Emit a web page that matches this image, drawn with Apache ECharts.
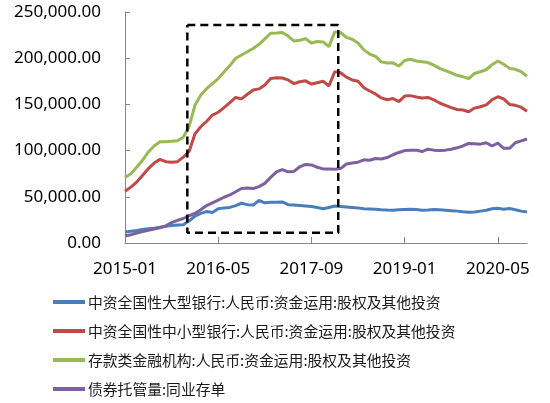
<!DOCTYPE html>
<html>
<head>
<meta charset="utf-8">
<script src="https://cdn.jsdelivr.net/npm/echarts@6/dist/echarts.min.js"></script>
<style>
html,body{margin:0;padding:0;background:#fff;}
#chart{width:550px;height:403px;}
</style>
</head>
<body>
<div id="chart"></div>
<script>
// Monthly categories 2015-01 .. 2020-10
const categories = [];
for (let y = 2015; y <= 2020; y++) {
  for (let m = 1; m <= 12; m++) {
    if (y === 2020 && m > 10) break;
    categories.push(y + '-' + (m < 10 ? '0' + m : m));
  }
}

const seriesNames = [
  '中资全国性大型银行:人民币:资金运用:股权及其他投资',
  '中资全国性中小型银行:人民币:资金运用:股权及其他投资',
  '存款类金融机构:人民币:资金运用:股权及其他投资',
  '债券托管量:同业存单'
];

const bigBanks = [12000,12800,13600,14500,15300,16000,17000,18000,19000,19500,
  19800,24000,29000,32000,34000,33000,37000,38000,38500,40500,
  43000,41500,41000,46000,43500,44000,44200,44500,41500,41000,
  40500,40000,39500,38500,37000,38500,40000,39500,39000,38500,
  38000,37000,36800,36500,36000,35700,35500,36000,36300,36500,
  36200,35500,35800,36300,36000,35500,35000,34500,33800,33200,
  33500,34500,35500,37000,37500,36500,37300,36000,34500,33500];

const smallBanks = [56000,60500,66000,73000,80500,86500,90500,88000,87500,88000,
  93000,99000,118000,125800,131500,138500,141500,146500,152000,157500,
  156000,161000,165500,166800,171000,178000,178800,178600,176500,172500,
  174500,175500,172000,173500,175000,170000,185300,184200,179500,176400,
  175000,168000,164500,161300,157000,155000,156400,153000,159000,159500,
  158000,157000,157500,155000,151500,149000,146500,144500,143900,142000,
  146000,147500,149500,155000,158300,156000,150000,149000,147000,142500];

const depository = [71000,75000,82000,89500,98500,105000,109500,109600,110000,110700,
  114500,126000,149000,160000,167000,172500,178000,185000,192000,200000,
  203500,207000,210500,215000,221000,227000,227200,227800,224000,218500,
  219500,221000,216500,218000,217500,212500,228500,227800,222500,220500,
  216500,209000,204500,202000,196000,194800,195000,191500,197500,198800,
  197000,196200,195300,192500,189000,186600,184000,181500,180000,178000,
  183500,185300,187500,193000,197000,193500,189000,188000,185500,180500];

const ncd = [7500,9000,10800,12300,13800,15000,16500,18500,22000,24500,
  26500,29500,32000,36000,40500,43500,46500,49500,52000,55500,
  59000,59500,59000,61000,64500,71000,77000,79500,77000,77500,
  82500,85000,84500,82000,80200,80000,79700,80500,85500,86500,
  87500,90000,89500,91500,91000,92500,95500,98000,100000,100500,
  100500,99000,101500,100500,100000,100500,101500,103000,105000,107800,
  107500,107000,108500,105000,108000,102500,102500,108500,110500,112500];

const yTicks = [0, 50000, 100000, 150000, 200000, 250000];

// Highlight box (in month index / value units)
const boxX = [10.7, 36.6];
const boxY = [11000, 236000];

const colors = ['#4A7EBB', '#BE4B48', '#98B954', '#7D60A0'];
const seriesData = [bigBanks, smallBanks, depository, ncd];

const fmt = v => v.toLocaleString('en-US', {minimumFractionDigits: 2, maximumFractionDigits: 2});

const chart = echarts.init(document.getElementById('chart'), null, {renderer: 'canvas'});

const series = seriesData.map((d, k) => ({
  name: seriesNames[k],
  type: 'line',
  data: d,
  symbol: 'none',
  smooth: false,
  lineStyle: {width: 3, color: colors[k]},
  itemStyle: {color: colors[k]},
  z: 2 + k
}));

series.push({
  name: 'box',
  type: 'line',
  xAxisIndex: 1,
  symbol: 'none',
  silent: true,
  z: 10,
  lineStyle: {color: '#000', width: 2.5, type: [8, 5]},
  data: [[boxX[0], boxY[1]], [boxX[1], boxY[1]], [boxX[1], boxY[0]], [boxX[0], boxY[0]], [boxX[0], boxY[1]]]
});

chart.setOption({
  animation: false,
  backgroundColor: '#fff',
  grid: {left: 125, right: 23, top: 12, bottom: 160},
  xAxis: [{
    type: 'category',
    data: categories,
    boundaryGap: false,
    axisLine: {lineStyle: {color: '#868686', width: 1}},
    axisTick: {inside: true, length: 6, interval: 15, lineStyle: {color: '#868686'}},
    axisLabel: {interval: 15, margin: 18, color: '#000', fontSize: 17, fontFamily: 'Noto Sans'},
    splitLine: {show: false}
  }, {
    type: 'value',
    min: 0,
    max: categories.length - 1,
    show: false
  }],
  yAxis: {
    type: 'value',
    min: yTicks[0],
    max: yTicks[yTicks.length - 1],
    interval: 50000,
    axisLine: {show: true, lineStyle: {color: '#868686', width: 1}},
    axisTick: {show: true, inside: true, length: 5, lineStyle: {color: '#868686'}},
    axisLabel: {margin: 24, color: '#000', fontSize: 17, fontFamily: 'Noto Sans', formatter: fmt},
    splitLine: {show: false}
  },
  legend: {
    data: seriesNames,
    orient: 'vertical',
    left: 53,
    top: 293,
    icon: 'rect',
    itemWidth: 32,
    itemHeight: 4,
    itemGap: 11,
    padding: 0,
    textStyle: {fontSize: 14.8, lineHeight: 18, color: '#1a1a1a', fontFamily: 'Noto Sans CJK SC', padding: [0, 0, 0, -2]}
  },
  series: series
});
</script>
</body>
</html>
